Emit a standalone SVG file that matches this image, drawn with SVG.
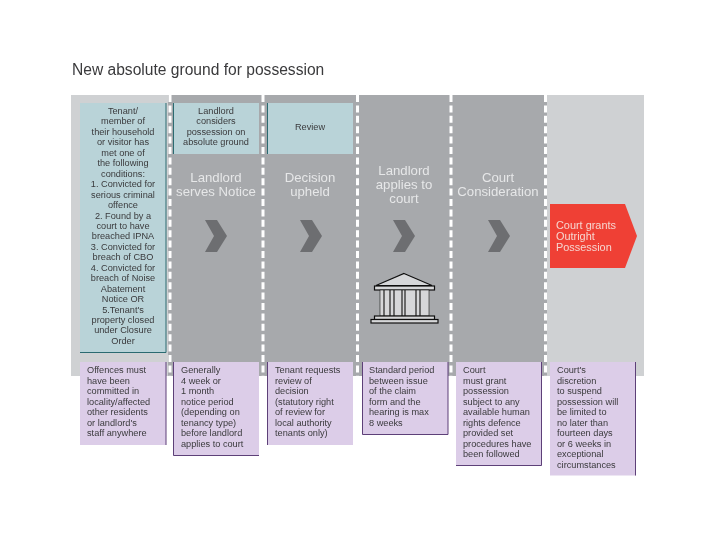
<svg xmlns="http://www.w3.org/2000/svg" width="720" height="540" viewBox="0 0 720 540">
<defs>
<filter id="soft" x="-2%" y="-2%" width="104%" height="104%"><feGaussianBlur stdDeviation="0.35"/></filter>
<polygon id="chev" points="0,0 12,0 22,16 12,32 0,32 9,16"/>
</defs>
<style>
text{font-family:"Liberation Sans",Arial,sans-serif}
.body{font-size:9.2px;fill:#3a3a3c}
.c{text-anchor:middle}
.head{font-size:13.2px;fill:#e6e7e8;text-anchor:middle}
.red{font-size:10.9px;fill:#f6d5d0}
.title{font-size:15.6px;fill:#3a3a3c}
.teal{fill:#b9d3d8}
.purple{fill:#dccde8}
.tl{stroke:#2a6a70;stroke-width:1;fill:none}
.pl{stroke:#5d3f78;stroke-width:1;fill:none}
.dash{stroke:#fff;stroke-width:3;stroke-dasharray:7 3.4;fill:none}
.chevron{fill:#6d6e71}
.t{fill:#d6d7d9;stroke:#111;stroke-width:1.2}
</style>
<rect width="720" height="540" fill="#fff"/>
<g filter="url(#soft)">
<text class="title" x="72" y="75">New absolute ground for possession</text>
<rect x="71" y="95" width="573" height="281" fill="#cfd1d3"/>
<rect x="168" y="95" width="379" height="281" fill="#a7a9ac"/>
<g id="connectors">
<path class="dash" d="M170 95V376"/>
<path class="dash" d="M263 95V376"/>
<path class="dash" d="M357.500 95V376"/>
<path class="dash" d="M451 95V376"/>
<path class="dash" d="M545.500 95V376"/>
<use href="#chev" class="chevron" x="205" y="220"/>
<use href="#chev" class="chevron" x="300" y="220"/>
<use href="#chev" class="chevron" x="393" y="220"/>
<use href="#chev" class="chevron" x="488" y="220"/>
</g>
<g id="cond">
<rect class="teal" x="80" y="103" width="86" height="249"/>
<path class="tl" d="M166 103V352.500H80"/>
<text class="body c" x="123">
<tspan x="123" y="114">Tenant/</tspan><tspan x="123" dy="10.45">member of</tspan><tspan x="123" dy="10.45">their household</tspan><tspan x="123" dy="10.45">or visitor has</tspan><tspan x="123" dy="10.45">met one of</tspan><tspan x="123" dy="10.45">the following</tspan><tspan x="123" dy="10.45">conditions:</tspan><tspan x="123" dy="10.45">1. Convicted for</tspan><tspan x="123" dy="10.45">serious criminal</tspan><tspan x="123" dy="10.45">offence</tspan><tspan x="123" dy="10.45">2. Found by a</tspan><tspan x="123" dy="10.45">court to have</tspan><tspan x="123" dy="10.45">breached IPNA</tspan><tspan x="123" dy="10.45">3. Convicted for</tspan><tspan x="123" dy="10.45">breach of CBO</tspan><tspan x="123" dy="10.45">4. Convicted for</tspan><tspan x="123" dy="10.45">breach of Noise</tspan><tspan x="123" dy="10.45">Abatement</tspan><tspan x="123" dy="10.45">Notice OR</tspan><tspan x="123" dy="10.45">5.Tenant's</tspan><tspan x="123" dy="10.45">property closed</tspan><tspan x="123" dy="10.45">under Closure</tspan><tspan x="123" dy="10.45">Order</tspan>
</text>
</g>
<g id="considers">
<rect class="teal" x="173" y="103" width="86" height="51"/>
<path class="tl" d="M173.500 103V154"/>
<text class="body c"><tspan x="216" y="114">Landlord</tspan><tspan x="216" dy="10.45">considers</tspan><tspan x="216" dy="10.45">possession on</tspan><tspan x="216" dy="10.45">absolute ground</tspan></text>
</g>
<g id="review">
<rect class="teal" x="267" y="103" width="86" height="51"/>
<path class="tl" d="M267.500 103V154"/>
<text class="body c" x="310" y="130">Review</text>
</g>
<g id="serves"><text class="head"><tspan x="216" y="182">Landlord</tspan><tspan x="216" dy="14">serves Notice</tspan></text></g>
<g id="upheld"><text class="head"><tspan x="310" y="182">Decision</tspan><tspan x="310" dy="14">upheld</tspan></text></g>
<g id="applies"><text class="head"><tspan x="404" y="175">Landlord</tspan><tspan x="404" dy="14">applies to</tspan><tspan x="404" dy="14">court</tspan></text></g>
<g id="consideration"><text class="head"><tspan x="498" y="182">Court</tspan><tspan x="498" dy="14">Consideration</tspan></text></g>
<g id="temple">
<path class="t" d="M404 273.500L432 285.500H376Z" fill="#d6d7d9"/>
<rect class="t" x="374.500" y="286" width="60" height="4"/>
<rect x="380" y="290" width="49" height="26" fill="#d6d7d9" stroke="#111" stroke-width="0.6"/>
<path d="M384 290V316M390 290V316M394 290V316M402 290V316M405 290V316M416 290V316M420 290V316" stroke="#111" stroke-width="1.1" fill="none"/>
<rect class="t" x="374.500" y="316" width="60" height="3.500"/>
<rect class="t" x="371" y="319.500" width="67" height="3.500"/>
</g>
<g id="grants">
<polygon points="550,204 625,204 637,236 625,268 550,268" fill="#ef4135"/>
<text class="red"><tspan x="556" y="229">Court grants</tspan><tspan x="556" dy="11">Outright</tspan><tspan x="556" dy="11">Possession</tspan></text>
</g>
<g id="note1">
<rect class="purple" x="80" y="362" width="86" height="83"/>
<path class="pl" d="M166 362V445"/>
<text class="body"><tspan x="87" y="373">Offences must</tspan><tspan x="87" dy="10.5">have been</tspan><tspan x="87" dy="10.5">committed in</tspan><tspan x="87" dy="10.5">locality/affected</tspan><tspan x="87" dy="10.5">other residents</tspan><tspan x="87" dy="10.5">or landlord's</tspan><tspan x="87" dy="10.5">staff anywhere</tspan></text>
</g>
<g id="note2">
<rect class="purple" x="173" y="362" width="86" height="93.500"/>
<path class="pl" d="M173.500 362V455.500H259"/>
<text class="body"><tspan x="181" y="373">Generally</tspan><tspan x="181" dy="10.5">4 week or</tspan><tspan x="181" dy="10.5">1 month</tspan><tspan x="181" dy="10.5">notice period</tspan><tspan x="181" dy="10.5">(depending on</tspan><tspan x="181" dy="10.5">tenancy type)</tspan><tspan x="181" dy="10.5">before landlord</tspan><tspan x="181" dy="10.5">applies to court</tspan></text>
</g>
<g id="note3">
<rect class="purple" x="267" y="362" width="86" height="83"/>
<path class="pl" d="M267.500 362V445"/>
<text class="body"><tspan x="275" y="373">Tenant requests</tspan><tspan x="275" dy="10.5">review of</tspan><tspan x="275" dy="10.5">decision</tspan><tspan x="275" dy="10.5">(statutory right</tspan><tspan x="275" dy="10.5">of review for</tspan><tspan x="275" dy="10.5">local authority</tspan><tspan x="275" dy="10.5">tenants only)</tspan></text>
</g>
<g id="note4">
<rect class="purple" x="362" y="362" width="86" height="72.500"/>
<path class="pl" d="M362.500 362V434.500H448V362"/>
<text class="body"><tspan x="369" y="373">Standard period</tspan><tspan x="369" dy="10.5">between issue</tspan><tspan x="369" dy="10.5">of the claim</tspan><tspan x="369" dy="10.5">form and the</tspan><tspan x="369" dy="10.5">hearing is max</tspan><tspan x="369" dy="10.5">8 weeks</tspan></text>
</g>
<g id="note5">
<rect class="purple" x="456" y="362" width="86" height="103.500"/>
<path class="pl" d="M456 465.500H541.500V362"/>
<text class="body"><tspan x="463" y="373">Court</tspan><tspan x="463" dy="10.5">must grant</tspan><tspan x="463" dy="10.5">possession</tspan><tspan x="463" dy="10.5">subject to any</tspan><tspan x="463" dy="10.5">available human</tspan><tspan x="463" dy="10.5">rights defence</tspan><tspan x="463" dy="10.5">provided set</tspan><tspan x="463" dy="10.5">procedures have</tspan><tspan x="463" dy="10.5">been followed</tspan></text>
</g>
<g id="note6">
<rect class="purple" x="550" y="362" width="86" height="113.500"/>
<path class="pl" d="M635.500 362V475.500"/>
<text class="body"><tspan x="557" y="373">Court's</tspan><tspan x="557" dy="10.5">discretion</tspan><tspan x="557" dy="10.5">to suspend</tspan><tspan x="557" dy="10.5">possession will</tspan><tspan x="557" dy="10.5">be limited to</tspan><tspan x="557" dy="10.5">no later than</tspan><tspan x="557" dy="10.5">fourteen days</tspan><tspan x="557" dy="10.5">or 6 weeks in</tspan><tspan x="557" dy="10.5">exceptional</tspan><tspan x="557" dy="10.5">circumstances</tspan></text>
</g>
</g>
</svg>
